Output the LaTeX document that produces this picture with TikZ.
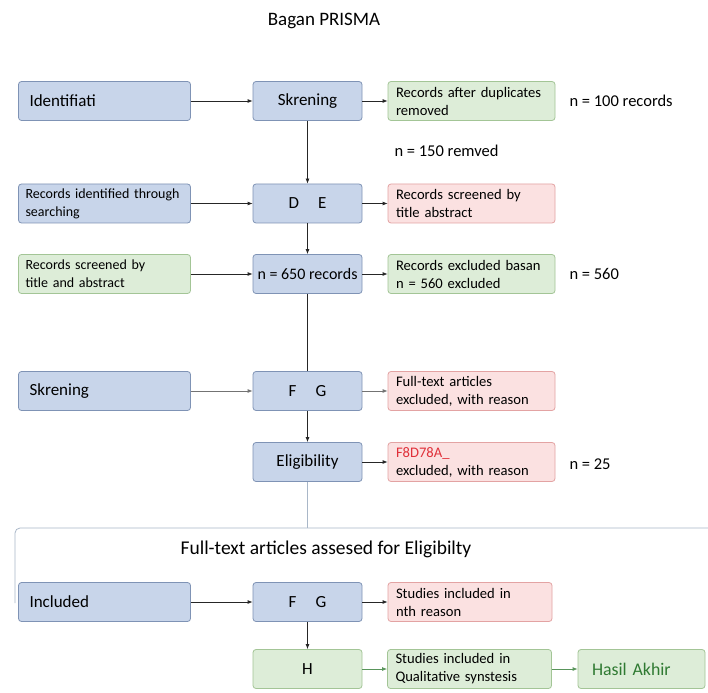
\documentclass[tikz,border=0pt]{standalone}
\usepackage{fontspec}
\setmainfont{Carlito}
\usetikzlibrary{arrows.meta}
\definecolor{bfill}{HTML}{C8D5EA}
\definecolor{bline}{HTML}{7F93B5}
\definecolor{gfill}{HTML}{DDEDD8}
\definecolor{gline}{HTML}{A3C596}
\definecolor{rfill}{HTML}{FBE1E1}
\definecolor{rline}{HTML}{E3A3A3}
\definecolor{framec}{HTML}{A9B7C8}
\definecolor{hasil}{HTML}{2F7A32}
\definecolor{redtxt}{HTML}{E0303A}
\tikzset{
  boxbase/.style={rounded corners=3pt, line width=0.8pt, minimum height=39pt, inner ysep=2pt},
  bluebox/.style={boxbase, fill=bfill, draw=bline},
  greenbox/.style={boxbase, fill=gfill, draw=gline},
  redbox/.style={boxbase, fill=rfill, draw=rline},
  leftcol/.style={text width=150pt, inner xsep=11pt, align=left, font=\fontsize{17}{19}\selectfont},
  leftsmall/.style={text width=158pt, inner xsep=7pt, align=left, font=\fontsize{14}{18}\selectfont},
  midcol/.style={minimum width=109pt, inner xsep=1pt, align=center, font=\fontsize{17}{19}\selectfont},
  rightcol/.style={text width=151pt, inner xsep=8pt, align=left, font=\fontsize{14.6}{18}\selectfont},
  arr/.style={-{Latex[length=5pt,width=4pt]}, line width=0.8pt, draw=black!85},
  grayarr/.style={-{Latex[length=5pt,width=4pt]}, line width=0.8pt, draw=black!55},
  greenarr/.style={-{Latex[length=5pt,width=4pt]}, line width=0.8pt, draw=hasil!80},
  plain/.style={line width=0.8pt, draw=black!85},
  note/.style={font=\fontsize{16.5}{18}\selectfont, anchor=west},
}
\begin{document}
\begin{tikzpicture}[x=1pt,y=-1pt]
\useasboundingbox (0,0) rectangle (708,692);
\fill[white] (0,0) rectangle (708,692);

\node[font=\fontsize{19}{21}\selectfont] (title) at (324,21) {Bagan PRISMA};

% frame line
\coordinate (fr) at (708,528);
\coordinate (fl) at (15,603);
\draw[framec, line width=0.8pt, rounded corners=5pt] (fr) -- (15,528) -- (fl);

% row 1
\node[bluebox, leftcol] (id) at (104.5,101) {Identifiati};
\node[bluebox, midcol] (skr) at (307.5,101) {Skrening};
\node[greenbox, rightcol] (dup) at (471.5,101) {Records after duplicates\\removed};
\node[note] (n100) at (566,101) {n = 100 records};
\node[note] (n150) at (391,151) {n = 150 remved};

% row 2
\node[bluebox, leftsmall] (ris) at (104.5,203.5) {Records identified through\\searching};
\node[bluebox, midcol] (de) at (307.5,203.5) {D\hspace{19pt}E};
\node[redbox, rightcol] (rsta) at (471.5,203.5) {Records screened by\\title abstract};

% row 3
\node[greenbox, leftsmall] (rsa) at (104.5,274) {Records screened by\\title and abstract};
\node[bluebox, midcol, font=\fontsize{16}{18}\selectfont] (n650) at (307.5,274) {n = 650 records};
\node[greenbox, rightcol] (reb) at (471.5,274) {Records excluded basan\\n = 560 excluded};
\node[note] (n560) at (566,274) {n = 560};

% row 4
\node[bluebox, leftcol] (skr2) at (104.5,391) {Skrening};
\node[bluebox, midcol] (fg) at (307.5,391) {F\hspace{19pt}G};
\node[redbox, rightcol] (fte) at (471.5,391) {Full-text articles\\excluded, with reason};

% row 5
\node[bluebox, midcol] (elig) at (307.5,462) {Eligibility};
\node[redbox, rightcol] (f8) at (471.5,462) {{\color{redtxt}F8D78A\_}\\excluded, with reason};
\node[note] (n25) at (566,464) {n = 25};

\node[font=\fontsize{19.5}{21}\selectfont] (ftaa) at (326,549) {Full-text articles assesed for Eligibilty};

% row 6
\node[bluebox, leftcol] (inc) at (104.5,602) {Included};
\node[bluebox, midcol] (fg2) at (307.5,602) {F\hspace{19pt}G};
\node[redbox, rightcol, text width=148pt] (sir) at (470,602) {Studies included in\\nth reason};

% row 7
\node[greenbox, midcol] (h) at (307.5,669) {H};
\node[greenbox, rightcol, text width=148pt] (sqs) at (469.5,669) {Studies included in\\Qualitative synstesis};
\node[greenbox, align=left, text width=99pt, inner xsep=14pt, font=\fontsize{17.8}{19}\selectfont, text=hasil] (ha) at (641.5,669) {Hasil Akhir};

% connectors
\draw[arr] (id) -- (skr);
\draw[arr] (skr) -- (dup);
\draw[arr] (skr) -- (de);
\draw[arr] (ris) -- (de);
\draw[arr] (de) -- (rsta);
\draw[arr] (de) -- (n650);
\draw[arr] (rsa) -- (n650);
\draw[arr] (n650) -- (reb);
\draw[plain] (n650) -- (fg);
\draw[grayarr] (skr2) -- (fg);
\draw[grayarr] (fg) -- (fte);
\draw[arr] (fg) -- (elig);
\draw[arr] (elig) -- (f8);
\draw[framec, line width=0.8pt] (elig.south) -- (elig.south |- fr);
\draw[arr] (inc) -- (fg2);
\draw[arr] (fg2) -- (sir);
\draw[arr] (fg2) -- (h);
\draw[greenarr] (h) -- (sqs);
\draw[greenarr] (sqs) -- (ha);
\end{tikzpicture}
\end{document}
